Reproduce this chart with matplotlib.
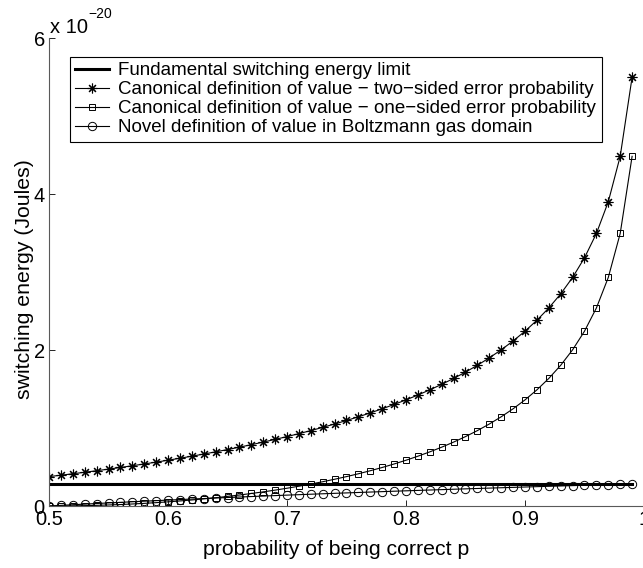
import matplotlib
matplotlib.use('Agg')
import matplotlib.pyplot as plt

plt.rcParams['font.family'] = ['Liberation Sans', 'DejaVu Sans']

# probability of being correct
p = [0.50, 0.51, 0.52, 0.53, 0.54, 0.55, 0.56, 0.57, 0.58, 0.59,
     0.60, 0.61, 0.62, 0.63, 0.64, 0.65, 0.66, 0.67, 0.68, 0.69,
     0.70, 0.71, 0.72, 0.73, 0.74, 0.75, 0.76, 0.77, 0.78, 0.79,
     0.80, 0.81, 0.82, 0.83, 0.84, 0.85, 0.86, 0.87, 0.88, 0.89,
     0.90, 0.91, 0.92, 0.93, 0.94, 0.95, 0.96, 0.97, 0.98, 0.99]

# switching energies, in units of 1e-20 J
fundamental = 0.2871
two_sided = [0.3769, 0.3947, 0.4132, 0.4324, 0.4522, 0.4727, 0.4939, 0.5159, 0.5387, 0.5623,
             0.5868, 0.6121, 0.6384, 0.6657, 0.6941, 0.7236, 0.7542, 0.7860, 0.8192, 0.8538,
             0.8898, 0.9275, 0.9668, 1.0079, 1.0510, 1.0962, 1.1437, 1.1936, 1.2462, 1.3017,
             1.3605, 1.4228, 1.4891, 1.5598, 1.6354, 1.7166, 1.8042, 1.8991, 2.0024, 2.1158,
             2.2412, 2.3811, 2.5389, 2.7196, 2.9303, 3.1822, 3.4940, 3.9011, 4.4831, 5.4962]
one_sided = [0.0000, 0.0005, 0.0021, 0.0047, 0.0084, 0.0131, 0.0189, 0.0258, 0.0338, 0.0429,
             0.0532, 0.0646, 0.0773, 0.0912, 0.1064, 0.1230, 0.1409, 0.1603, 0.1812, 0.2037,
             0.2278, 0.2537, 0.2814, 0.3111, 0.3429, 0.3769, 0.4132, 0.4522, 0.4939, 0.5387,
             0.5868, 0.6384, 0.6941, 0.7542, 0.8192, 0.8898, 0.9668, 1.0510, 1.1437, 1.2462,
             1.3605, 1.4891, 1.6354, 1.8042, 2.0024, 2.2412, 2.5389, 2.9303, 3.4940, 4.4831]
novel = [0.0000, 0.0082, 0.0162, 0.0241, 0.0319, 0.0395, 0.0469, 0.0543, 0.0615, 0.0686,
         0.0755, 0.0824, 0.0891, 0.0957, 0.1022, 0.1087, 0.1150, 0.1212, 0.1274, 0.1334,
         0.1394, 0.1452, 0.1510, 0.1567, 0.1624, 0.1679, 0.1734, 0.1788, 0.1842, 0.1895,
         0.1947, 0.1998, 0.2049, 0.2099, 0.2149, 0.2198, 0.2246, 0.2294, 0.2341, 0.2388,
         0.2435, 0.2480, 0.2526, 0.2570, 0.2615, 0.2659, 0.2702, 0.2745, 0.2787, 0.2829]

labels = ['Fundamental switching energy limit',
          'Canonical definition of value \u2212 two\u2212sided error probability',
          'Canonical definition of value \u2212 one\u2212sided error probability',
          'Novel definition of value in Boltzmann gas domain']

fig = plt.figure(figsize=(6.43, 5.68), dpi=100)
fig.patch.set_facecolor('white')
ax = fig.add_axes([49/643, 62/568, 595/643, 468/568])

ax.plot([p[0], p[-1]], [fundamental, fundamental], 'k-', lw=2.2, label=labels[0])
ax.plot(p, two_sided, 'k-', marker=(8, 2, 0), ms=7, mew=0.8, lw=0.8, label=labels[1])
ax.plot(p, one_sided, 'k-', marker='s', ms=5, mfc='none', mew=0.7, lw=0.8, label=labels[2])
ax.plot(p, novel, 'k-', marker='o', ms=6, mfc='none', mew=0.7, lw=0.8, label=labels[3])

ax.set_xlim(0.5, 1)
ax.set_ylim(0, 6)
ax.set_xticks([0.5, 0.6, 0.7, 0.8, 0.9, 1.0])
ax.set_xticklabels(['0.5', '0.6', '0.7', '0.8', '0.9', '1'])
ax.set_yticks([0, 2, 4, 6])
ax.set_yticklabels(['0', '2', '4', '6'])
ax.tick_params(direction='in', length=4, width=0.6, labelsize=14.5, pad=3)
for s in ['top', 'right']:
    ax.spines[s].set_visible(False)
for s in ['left', 'bottom']:
    ax.spines[s].set_linewidth(0.8)
    ax.spines[s].set_color('0.35')

ax.set_xlabel('probability of being correct p', fontsize=15.3)
ax.xaxis.set_label_coords(0.482, -0.072)
ax.set_ylabel('switching energy (Joules)', fontsize=15.3)
ax.yaxis.set_label_coords(-0.026, 0.485)

# exponent label, MATLAB style
ax.annotate('x 10', xy=(0, 1), xycoords='axes fraction',
            xytext=(1, 3.6), textcoords='offset points',
            fontsize=14.5, ha='left', va='baseline')
ax.annotate('\u221220', xy=(0, 1), xycoords='axes fraction',
            xytext=(28.5, 14.5), textcoords='offset points',
            fontsize=10, ha='left', va='baseline')

leg = ax.legend(loc='upper left', bbox_to_anchor=(0.0353, 0.9594), borderaxespad=0,
                fontsize=13.5, numpoints=1, handlelength=1.8, fancybox=False,
                framealpha=1, borderpad=0.28, labelspacing=0.1, handletextpad=0.5)
leg.get_frame().set_edgecolor('black')
leg.get_frame().set_linewidth(0.8)

fig.savefig('out.png', dpi=100)
